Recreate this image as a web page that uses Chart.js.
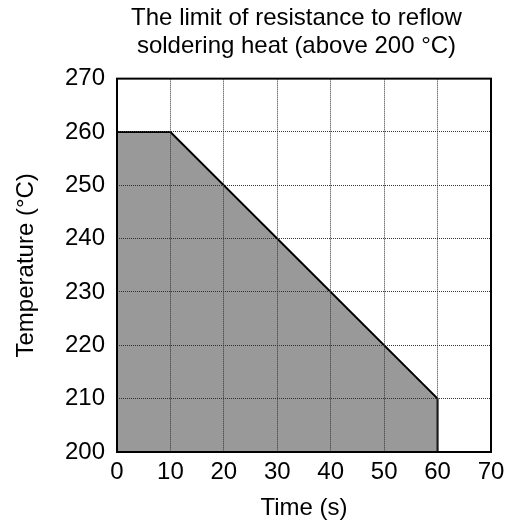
<!DOCTYPE html>
<html>
<head>
<meta charset="utf-8">
<script src="https://cdn.jsdelivr.net/npm/chart.js@4.4.0/dist/chart.umd.min.js"></script>
<style>
  html, body { margin: 0; padding: 0; background: #fff; }
  #wrap { width: 520px; height: 525px; }
</style>
</head>
<body>
<div id="wrap"><canvas id="chart" width="520" height="525"></canvas></div>
<script>
// Данные графика
const timeValues = [0, 10, 60, 60];
const tempValues = [260, 260, 210, 200];
const xTicks = [0, 10, 20, 30, 40, 50, 60, 70];
const yTicks = [200, 210, 220, 230, 240, 250, 260, 270];
const titleLines = ['The limit of resistance to reflow', 'soldering heat (above 200 \u00b0C)'];

const points = timeValues.map((t, i) => ({ x: t, y: tempValues[i] }));

// Рамка вокруг области графика + небольшой сдвиг заголовка
const framePlugin = {
    id: 'frame',
    afterLayout(chart) {
        const t = chart.titleBlock;
        if (t) { t.left -= 15; }
    },
    afterDraw(chart) {
        const a = chart.chartArea;
        const ctx = chart.ctx;
        ctx.save();
        ctx.strokeStyle = '#000';
        ctx.lineWidth = 2;
        ctx.strokeRect(a.left, a.top, a.right - a.left, a.bottom - a.top);
        ctx.restore();
    }
};

Chart.defaults.font.family = '"Liberation Sans", Arial, sans-serif';
Chart.defaults.color = '#000';

new Chart(document.getElementById('chart'), {
    type: 'line',
    data: {
        datasets: [{
            data: points,
            borderColor: '#000',
            borderWidth: 2,
            backgroundColor: '#999999',
            fill: 'start',
            pointRadius: 0,
            tension: 0
        }]
    },
    options: {
        responsive: false,
        animation: false,
        layout: { padding: { left: 0, right: 29, top: 0, bottom: 0 } },
        plugins: {
            legend: { display: false },
            tooltip: { enabled: false },
            title: {
                display: true,
                fullSize: false,
                text: titleLines,
                font: { size: 24, weight: 'normal', lineHeight: 1.18 },
                padding: { top: 4, bottom: 18 },
                align: 'center'
            }
        },
        scales: {
            x: {
                type: 'linear',
                min: 0,
                max: 70,
                afterBuildTicks: axis => { axis.ticks = xTicks.map(v => ({ value: v })); },
                afterFit: axis => { axis.height = 73; },
                ticks: { font: { size: 24 }, padding: 6, maxRotation: 0 },
                grid: { color: '#333', lineWidth: 1, drawTicks: false, z: 1 },
                border: { display: false, dash: [1, 1] },
                title: { display: true, text: 'Time (s)', font: { size: 24 }, padding: { top: 0, bottom: 2 } }
            },
            y: {
                type: 'linear',
                min: 200,
                max: 270,
                afterBuildTicks: axis => { axis.ticks = yTicks.map(v => ({ value: v })); },
                afterFit: axis => { axis.width = 117; },
                ticks: { font: { size: 24 }, padding: 12 },
                grid: { color: '#333', lineWidth: 1, drawTicks: false, z: 1 },
                border: { display: false, dash: [1, 1] },
                title: { display: true, text: 'Temperature (\u00b0C)', font: { size: 24 }, padding: { top: 12, bottom: 0 } }
            }
        }
    },
    plugins: [framePlugin]
});
</script>
</body>
</html>
